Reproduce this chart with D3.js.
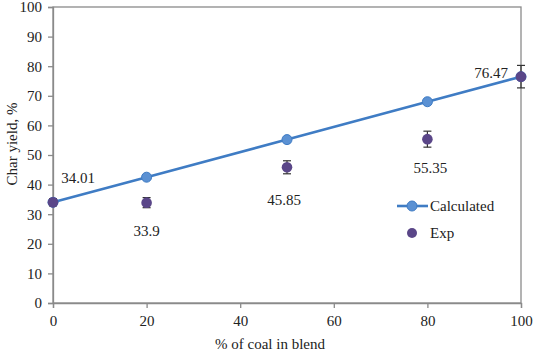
<!DOCTYPE html>
<html>
<head>
<meta charset="utf-8">
<script src="https://cdn.jsdelivr.net/npm/d3@7"></script>
<style>
  body { margin: 0; background: #fff; }
  svg text { font-family: "Liberation Serif", "DejaVu Serif", "Times New Roman", Times, serif !important; fill: #222; }
</style>
</head>
<body>
<div id="vis"></div>
<script>
// data
const coalPct = [0, 20, 50, 80, 100];
const calculated = [34.01, 42.5, 55.2, 68.0, 76.47];
const expYield = [34.01, 33.9, 45.85, 55.35, 76.47];
const expErr = [1.2, 1.7, 2.2, 2.7, 3.8];
const expLabels = ["34.01", "33.9", "45.85", "55.35", "76.47"];
const xTicks = [0, 20, 40, 60, 80, 100];
const yTicks = [0, 10, 20, 30, 40, 50, 60, 70, 80, 90, 100];

let margin = {top: 7, right: 12, bottom: 50, left: 53},
    W = 533, H = 353,
    width = W - margin.left - margin.right,
    height = H - margin.top - margin.bottom;

let svg = d3.select("#vis").append("svg")
    .attr("width", W)
    .attr("height", H);

let g = svg.append("g")
    .attr("transform", "translate(" + margin.left + "," + margin.top + ")");

let x = d3.scaleLinear().domain([0, 100]).range([0, width]);
let y = d3.scaleLinear().domain([0, 100]).range([height, 0]);

const axisCol = "#8a8a8a";

// frame
g.append("rect")
    .attr("width", width).attr("height", height)
    .attr("fill", "none").attr("stroke", axisCol).attr("stroke-width", 1.3);

let xAxis = g.append("g")
    .attr("transform", "translate(0," + height + ")")
    .call(d3.axisBottom(x).tickValues(xTicks).tickSize(5).tickPadding(7));
let yAxis = g.append("g")
    .call(d3.axisLeft(y).tickValues(yTicks).tickSize(5).tickPadding(6));

[xAxis, yAxis].forEach(a => {
    a.attr("font-family", null).attr("font-size", null);
    a.select(".domain").attr("stroke", axisCol).attr("stroke-width", 1.3);
    a.selectAll(".tick line").attr("stroke", axisCol).attr("stroke-width", 1.3);
    a.selectAll(".tick text")
        .style("font-size", "15px")
        .attr("fill", "#222");
});

// axis titles
svg.append("text")
    .attr("x", 270).attr("y", 349)
    .attr("text-anchor", "middle")
    .style("font-size", "15px")
    .text("% of coal in blend");

svg.append("text")
    .attr("transform", "translate(17,144) rotate(-90)")
    .attr("text-anchor", "middle")
    .style("font-size", "15px")
    .text("Char yield, %");

// calculated line
const blue = "#3f7cc4";
g.append("path")
    .datum(coalPct.map((c, i) => [c, calculated[i]]))
    .attr("fill", "none")
    .attr("stroke", blue)
    .attr("stroke-width", 2.6)
    .attr("d", d3.line().x(d => x(d[0])).y(d => y(d[1])));

g.selectAll(".calc")
    .data(coalPct.map((c, i) => [c, calculated[i]]))
    .enter().append("circle")
    .attr("class", "calc")
    .attr("cx", d => x(d[0])).attr("cy", d => y(d[1]))
    .attr("r", 5)
    .attr("fill", "#5b91d3").attr("stroke", blue).attr("stroke-width", 1);

// experimental points with error bars
const purple = "#5a4688";
const expData = coalPct.map((c, i) => ({c: c, v: expYield[i], e: expErr[i], lab: expLabels[i]}));

let eb = g.selectAll(".err").data(expData).enter().append("g").attr("class", "err");
eb.append("line")
    .attr("x1", d => x(d.c)).attr("x2", d => x(d.c))
    .attr("y1", d => y(d.v + d.e)).attr("y2", d => y(d.v - d.e))
    .attr("stroke", "#333").attr("stroke-width", 1.2);
eb.append("line")
    .attr("x1", d => x(d.c) - 4).attr("x2", d => x(d.c) + 4)
    .attr("y1", d => y(d.v + d.e)).attr("y2", d => y(d.v + d.e))
    .attr("stroke", "#333").attr("stroke-width", 1.2);
eb.append("line")
    .attr("x1", d => x(d.c) - 4).attr("x2", d => x(d.c) + 4)
    .attr("y1", d => y(d.v - d.e)).attr("y2", d => y(d.v - d.e))
    .attr("stroke", "#333").attr("stroke-width", 1.2);

g.selectAll(".exp").data(expData).enter().append("circle")
    .attr("class", "exp")
    .attr("cx", d => x(d.c)).attr("cy", d => y(d.v))
    .attr("r", 5.3)
    .attr("fill", purple);

// data labels (offsets relative to each point)
const labOff = [[25, -19], [0, 33], [-3, 38], [3, 34], [-30, 1]];
g.selectAll(".lab").data(expData).enter().append("text")
    .attr("class", "lab")
    .attr("x", (d, i) => x(d.c) + labOff[i][0])
    .attr("y", (d, i) => y(d.v) + labOff[i][1])
    .attr("text-anchor", "middle")
    .style("font-size", "15px")
    .text(d => d.lab);

// legend
let leg = svg.append("g").attr("transform", "translate(397,206)");
leg.append("line").attr("x1", 0).attr("x2", 31).attr("y1", 0).attr("y2", 0)
    .attr("stroke", blue).attr("stroke-width", 2.6);
leg.append("circle").attr("cx", 15).attr("cy", 0).attr("r", 5)
    .attr("fill", "#5b91d3").attr("stroke", blue);
leg.append("text").attr("x", 33).attr("y", 5).style("font-size", "15px").text("Calculated");
leg.append("circle").attr("cx", 15).attr("cy", 27).attr("r", 5).attr("fill", purple);
leg.append("text").attr("x", 33).attr("y", 32).style("font-size", "15px").text("Exp");
</script>
</body>
</html>
